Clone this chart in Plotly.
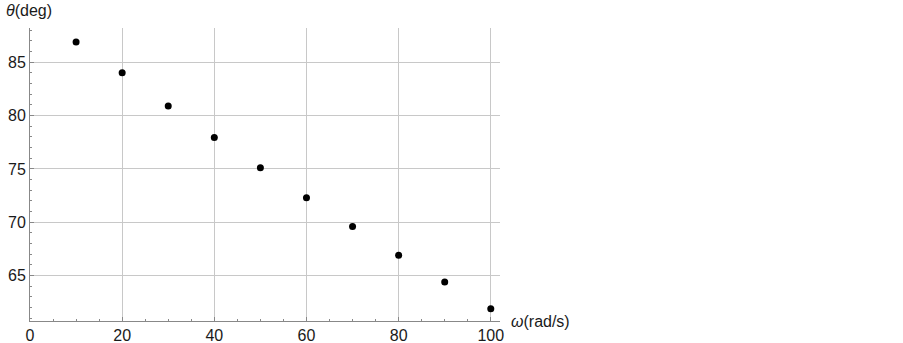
import plotly.graph_objects as go

omega = [10, 20, 30, 40, 50, 60, 70, 80, 90, 100]
theta = [86.9, 84.0, 80.9, 77.95, 75.1, 72.3, 69.6, 66.9, 64.4, 61.9]

x_ticks = [0, 20, 40, 60, 80, 100]
y_ticks = [65, 70, 75, 80, 85]

fig = go.Figure()
fig.add_trace(go.Scatter(x=omega, y=theta, mode="markers",
                         marker=dict(color="black", size=7), showlegend=False))

font = dict(family="Liberation Sans, Arial, sans-serif", size=16, color="#1a1a1a")

fig.update_layout(
    width=903, height=343,
    margin=dict(l=30, r=403, t=28, b=22, autoexpand=False),
    plot_bgcolor="white", paper_bgcolor="white",
    font=font,
    xaxis=dict(range=[0, 102], tickvals=x_ticks, showgrid=True, gridcolor="#c8c8c8",
               gridwidth=1, showline=True, linecolor="#888888", linewidth=1,
               ticks="inside", ticklen=4, tickcolor="#888888", zeroline=False,
               automargin=False, ticklabelstandoff=0,
               minor=dict(dtick=5, ticks="inside", ticklen=2, tickcolor="#888888", showgrid=False),
               tickfont=font),
    yaxis=dict(range=[60.75, 88.2], tickvals=y_ticks, showgrid=True, gridcolor="#c8c8c8",
               gridwidth=1, showline=True, linecolor="#888888", linewidth=1,
               ticks="inside", ticklen=4, tickcolor="#888888", zeroline=False,
               automargin=False,
               minor=dict(dtick=1, ticks="inside", ticklen=2, tickcolor="#888888", showgrid=False),
               tickfont=font),
    annotations=[
        dict(text="<i>θ</i>(deg)", xref="paper", yref="paper", x=-0.055, y=1.0, yshift=28,
             xanchor="left", yanchor="top", showarrow=False, font=font),
        dict(text="<i>ω</i>(rad/s)", xref="paper", yref="paper", x=1.0, y=0.0, xshift=9,
             xanchor="left", yanchor="middle", showarrow=False, font=font),
    ],
)

fig.write_html("out.html", config={"displayModeBar": False},
               post_script="document.body.style.margin='0';document.body.style.overflow='hidden';")
